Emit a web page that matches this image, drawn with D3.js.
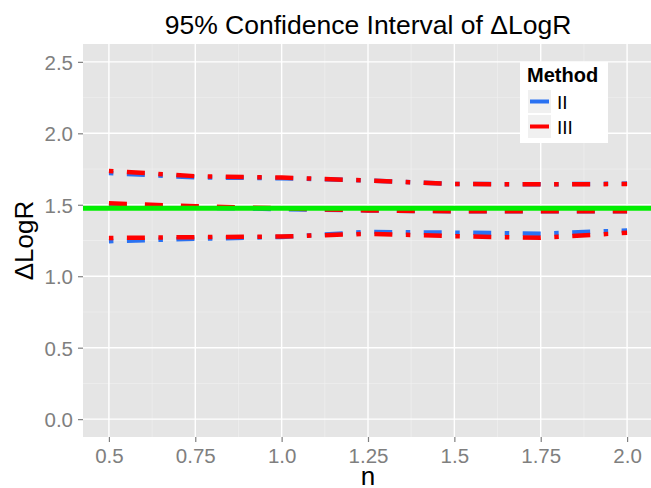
<!DOCTYPE html>
<html>
<head>
<meta charset="utf-8">
<script src="https://cdn.jsdelivr.net/npm/d3@7"></script>
<style>
  body { margin: 0; background: #fff; }
  svg { font-family: "Liberation Sans", Arial, Helvetica, sans-serif; }
</style>
</head>
<body>
<div id="chart"></div>
<script>
// data
var nValues = [0.5, 0.75, 1.0, 1.25, 1.5, 1.75, 2.0];

var upperII = [1.722, 1.692, 1.686, 1.670, 1.646, 1.643, 1.648];
var meanII = [1.495, 1.480, 1.470, 1.460, 1.455, 1.455, 1.455];
var lowerII = [1.245, 1.262, 1.275, 1.310, 1.305, 1.298, 1.320];

var upperIII = [1.737, 1.700, 1.690, 1.670, 1.645, 1.643, 1.645];
var meanIII = [1.510, 1.490, 1.475, 1.460, 1.455, 1.455, 1.455];
var lowerIII = [1.268, 1.273, 1.278, 1.297, 1.280, 1.269, 1.304];

var refLine = 1.475;

var methods = ["II", "III"];
var methodColors = ["#2a72f2", "#ff0000"];
var xTicks = [0.5, 0.75, 1.0, 1.25, 1.5, 1.75, 2.0];
var xTickLabels = ["0.5", "0.75", "1.0", "1.25", "1.5", "1.75", "2.0"];
var yTicks = [0, 0.5, 1.0, 1.5, 2.0, 2.5];

// set the dimensions and margins of the graph
var margin = { top: 44, right: -2, bottom: 51, left: 83 },
    width = 651 - margin.left - margin.right,
    height = 488 - margin.top - margin.bottom;

var svgRoot = d3.select("#chart")
    .append("svg")
    .attr("width", 651)
    .attr("height", 488);

var svg = svgRoot.append("g")
    .attr("transform", "translate(" + margin.left + "," + margin.top + ")");

// scales (ggplot style 5% expansion)
var x = d3.scaleLinear()
    .domain([0.5 - 0.075, 2.0 + 0.075])
    .range([0, width]);

var y = d3.scaleLinear()
    .domain([0 - 0.125, 2.5 + 0.125])
    .range([height, 0]);

// panel background
svg.append("rect")
    .attr("width", width)
    .attr("height", height)
    .style("fill", "#e5e5e5");

// minor grid
var xMinor = [0.625, 0.875, 1.125, 1.375, 1.625, 1.875];
var yMinor = [0.25, 0.75, 1.25, 1.75, 2.25];
svg.selectAll(".xminor").data(xMinor).enter().append("line")
    .attr("x1", function (d) { return x(d); })
    .attr("x2", function (d) { return x(d); })
    .attr("y1", 0).attr("y2", height)
    .style("stroke", "#f2f2f2").style("stroke-width", 0.6);
svg.selectAll(".yminor").data(yMinor).enter().append("line")
    .attr("y1", function (d) { return y(d); })
    .attr("y2", function (d) { return y(d); })
    .attr("x1", 0).attr("x2", width)
    .style("stroke", "#f2f2f2").style("stroke-width", 0.6);

// major grid
svg.selectAll(".xmajor").data(xTicks).enter().append("line")
    .attr("x1", function (d) { return x(d); })
    .attr("x2", function (d) { return x(d); })
    .attr("y1", 0).attr("y2", height)
    .style("stroke", "#ffffff").style("stroke-width", 1.4);
svg.selectAll(".ymajor").data(yTicks).enter().append("line")
    .attr("y1", function (d) { return y(d); })
    .attr("y2", function (d) { return y(d); })
    .attr("x1", 0).attr("x2", width)
    .style("stroke", "#ffffff").style("stroke-width", 1.4);

// lines
var series = [
    { method: "II", values: upperII, dash: "dotdash" },
    { method: "II", values: meanII, dash: "dashed" },
    { method: "II", values: lowerII, dash: "dotdash" },
    { method: "III", values: upperIII, dash: "dotdash" },
    { method: "III", values: meanIII, dash: "dashed" },
    { method: "III", values: lowerIII, dash: "dotdash" }
];
var lw = 4.5;
var dashes = {
    dotdash: [1 * lw, 3 * lw, 4 * lw, 3 * lw].join(","),
    dashed: [4 * lw, 4 * lw].join(",")
};

var line = d3.line()
    .x(function (d, i) { return x(nValues[i]); })
    .y(function (d) { return y(d); });

svg.selectAll(".series")
    .data(series)
    .enter().append("path")
    .attr("d", function (d) { return line(d.values); })
    .style("fill", "none")
    .style("stroke", function (d) { return methodColors[methods.indexOf(d.method)]; })
    .style("stroke-width", lw)
    .style("stroke-dasharray", function (d) { return dashes[d.dash]; });

// reference line
svg.append("line")
    .attr("x1", 0).attr("x2", width)
    .attr("y1", y(refLine)).attr("y2", y(refLine))
    .style("stroke", "#00ee00")
    .style("stroke-width", 5);

// axes
var xAxis = svg.append("g")
    .attr("transform", "translate(0," + height + ")")
    .call(d3.axisBottom(x).tickValues(xTicks)
        .tickFormat(function (d, i) { return xTickLabels[i]; })
        .tickSize(5).tickPadding(4));
var yAxis = svg.append("g")
    .call(d3.axisLeft(y).tickValues(yTicks)
        .tickFormat(d3.format(".1f"))
        .tickSize(5).tickPadding(5));

[xAxis, yAxis].forEach(function (ax) {
    ax.select(".domain").remove();
    ax.selectAll("line").style("stroke", "#7f7f7f").style("stroke-width", 1.2);
    ax.selectAll("text").style("fill", "#7f7f7f").style("font-size", "20.5px");
});
xAxis.selectAll("text").attr("dy", "0.83em");
yAxis.selectAll("text").attr("dy", "0.36em");

// titles
svgRoot.append("text")
    .attr("x", margin.left + width / 2)
    .attr("y", 34)
    .style("text-anchor", "middle")
    .style("font-size", "26.5px")
    .text("95% Confidence Interval of \u0394LogR");

svgRoot.append("text")
    .attr("x", margin.left + width / 2)
    .attr("y", 485)
    .style("text-anchor", "middle")
    .style("font-size", "26px")
    .text("n");

svgRoot.append("text")
    .attr("transform", "translate(33," + (margin.top + height / 2) + ") rotate(-90)")
    .style("text-anchor", "middle")
    .style("font-size", "26px")
    .text("\u0394LogR");

// legend
var legend = svgRoot.append("g")
    .attr("transform", "translate(520,62)");

legend.append("rect")
    .attr("width", 88)
    .attr("height", 81)
    .style("fill", "#ffffff");

legend.append("text")
    .attr("x", 7)
    .attr("y", 20)
    .style("font-size", "20px")
    .style("font-weight", "bold")
    .text("Method");

var keys = legend.selectAll(".key")
    .data(methods)
    .enter().append("g")
    .attr("transform", function (d, i) { return "translate(8," + (28 + i * 25) + ")"; });

keys.append("rect")
    .attr("width", 23)
    .attr("height", 23)
    .style("fill", "#f0f0f0");

keys.append("line")
    .attr("x1", 2).attr("x2", 21)
    .attr("y1", 11.5).attr("y2", 11.5)
    .style("stroke", function (d, i) { return methodColors[i]; })
    .style("stroke-width", 4);

keys.append("text")
    .attr("x", 29)
    .attr("y", 18.5)
    .style("font-size", "19px")
    .text(function (d) { return d; });
</script>
</body>
</html>
